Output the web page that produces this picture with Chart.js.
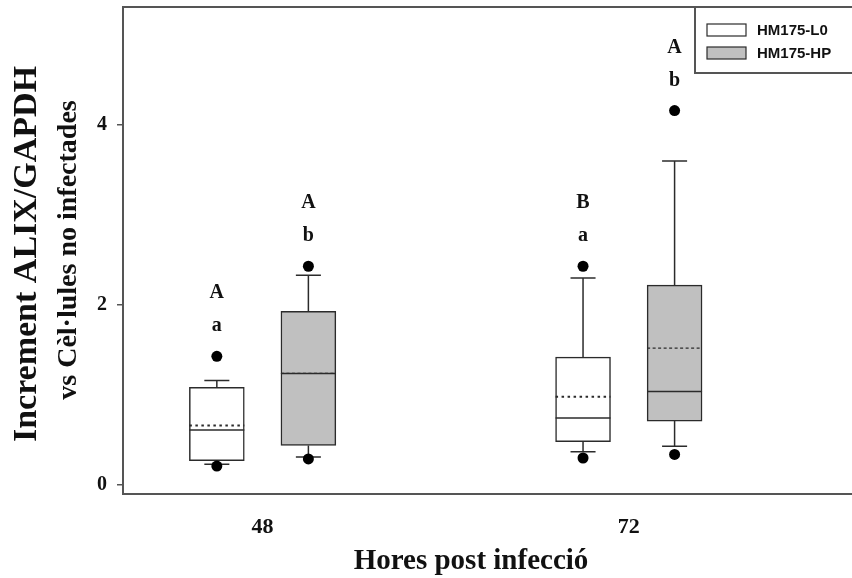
<!DOCTYPE html>
<html><head><meta charset="utf-8">
<script src="https://cdn.jsdelivr.net/npm/chart.js@4.4.1/dist/chart.umd.min.js"></script>
<style>html,body{margin:0;padding:0;background:#fff;overflow:hidden;width:852px;height:578px}#wrap{width:852px;height:578px;position:relative;overflow:hidden}</style>
</head><body><div id="wrap"><canvas id="c" width="858" height="578"></canvas></div>
<script>
// ---- data ----
const hours = [48, 72];
const yTickValues = [0, 2, 4];
const seriesNames = ['HM175-L0', 'HM175-HP'];

const l0Q1 = [0.27, 0.48];
const l0Q3 = [1.085, 1.42];
const l0Median = [0.61, 0.745];
const l0Mean = [0.66, 0.98];
const l0WhiskerLow = [0.23, 0.37];
const l0WhiskerHigh = [1.16, 2.30];
const l0OutLow = [0.21, 0.30];
const l0OutHigh = [1.43, 2.43];
const l0LetterTop = ['A', 'B'];
const l0LetterBottom = ['a', 'a'];

const hpQ1 = [0.44, 0.71];
const hpQ3 = [1.93, 2.22];
const hpMedian = [1.24, 1.04];
const hpMean = [1.24, 1.52];
const hpWhiskerLow = [0.31, 0.43];
const hpWhiskerHigh = [2.33, 3.60];
const hpOutLow = [0.29, 0.34];
const hpOutHigh = [2.43, 4.16];
const hpLetterTop = ['A', 'A'];
const hpLetterBottom = ['b', 'b'];

// ---- style / layout constants ----
const groupOffset = [-3, 3];   // hours offset of each series inside a group
const boxHalf = 1.8;           // half box width in x units
const capHalf = 0.82;          // half whisker cap width in x units
const lineCol = '#2b2b2b';
const frameCol = '#555555';
const fills = ['#ffffff', '#c0c0c0'];
const meanDash = [[2.5, 3.5], [3, 2.5]];
const meanWidth = [2, 1.2];

const series = [
  {q1: l0Q1, q3: l0Q3, med: l0Median, mean: l0Mean, wl: l0WhiskerLow, wh: l0WhiskerHigh, ol: l0OutLow, oh: l0OutHigh, lt: l0LetterTop, lb: l0LetterBottom},
  {q1: hpQ1, q3: hpQ3, med: hpMedian, mean: hpMean, wl: hpWhiskerLow, wh: hpWhiskerHigh, ol: hpOutLow, oh: hpOutHigh, lt: hpLetterTop, lb: hpLetterBottom}
];

function seg(x1, y1, x2, y2, dash, width) {
  return {type: 'line', data: [{x: x1, y: y1}, {x: x2, y: y2}], borderColor: lineCol,
    borderWidth: width || 1.5, borderDash: dash || [], pointRadius: 0, fill: false, tension: 0, order: 1};
}

const datasets = [];
// outlier points (drawn on top)
series.forEach((s, si) => {
  const pts = [];
  hours.forEach((h, i) => { pts.push({x: h + groupOffset[si], y: s.oh[i]}); pts.push({x: h + groupOffset[si], y: s.ol[i]}); });
  datasets.push({type: 'scatter', label: seriesNames[si] + ' outliers', data: pts, pointRadius: 5.5,
    pointBackgroundColor: '#000', pointBorderColor: '#000', pointBorderWidth: 0, showLine: false, order: 0});
});
// whiskers, caps, medians, means
series.forEach((s, si) => {
  hours.forEach((h, i) => {
    const x = h + groupOffset[si];
    datasets.push(seg(x, s.q3[i], x, s.wh[i]));
    datasets.push(seg(x, s.q1[i], x, s.wl[i]));
    datasets.push(seg(x - capHalf, s.wh[i], x + capHalf, s.wh[i]));
    datasets.push(seg(x - capHalf, s.wl[i], x + capHalf, s.wl[i]));
    datasets.push(seg(x - boxHalf, s.med[i], x + boxHalf, s.med[i]));
    datasets.push(seg(x - boxHalf, s.mean[i], x + boxHalf, s.mean[i], meanDash[si], meanWidth[si]));
  });
});
// boxes
series.forEach((s, si) => {
  datasets.push({type: 'bar', label: seriesNames[si],
    data: hours.map((h, i) => ({x: h + groupOffset[si], y: [s.q1[i], s.q3[i]]})),
    backgroundColor: fills[si], borderColor: lineCol, borderWidth: 1.5, borderSkipped: false,
    grouped: false, barThickness: 55, order: 2});
});

const serif = "'Liberation Serif', 'Times New Roman', serif";
const txtCol = '#111111';

const annotPlugin = {
  id: 'annot',
  afterDatasetsDraw(chart) {
    const {ctx, scales: {x, y}} = chart;
    ctx.save();
    ctx.fillStyle = txtCol;
    ctx.textAlign = 'center';
    ctx.textBaseline = 'middle';
    ctx.font = 'bold 20px ' + serif;
    series.forEach((s, si) => {
      hours.forEach((h, i) => {
        const px = x.getPixelForValue(h + groupOffset[si]);
        const py = y.getPixelForValue(s.oh[i]);
        ctx.fillText(s.lb[i], px, py - 30);
        ctx.fillText(s.lt[i], px, py - 63);
      });
    });
    ctx.restore();
  },
  afterDraw(chart) {
    const {ctx, chartArea} = chart;
    ctx.save();
    ctx.fillStyle = txtCol;
    ctx.textAlign = 'center';
    ctx.textBaseline = 'middle';
    ctx.translate(27, 254);
    ctx.rotate(-Math.PI / 2);
    ctx.font = 'bold 34px ' + serif;
    ctx.fillText('Increment ALIX/GAPDH', 0, 0);
    ctx.restore();
    ctx.save();
    ctx.fillStyle = txtCol;
    ctx.textAlign = 'center';
    ctx.textBaseline = 'middle';
    ctx.translate(69, 250);
    ctx.rotate(-Math.PI / 2);
    ctx.font = 'bold 28px ' + serif;
    ctx.fillText('vs Cèl·lules no infectades', 0, 0);
    ctx.restore();
    // x title
    ctx.save();
    ctx.fillStyle = txtCol;
    ctx.textAlign = 'center';
    ctx.textBaseline = 'middle';
    ctx.font = 'bold 29px ' + serif;
    ctx.fillText('Hores post infecció', 471, 562);
    ctx.restore();
    // legend
    ctx.save();
    ctx.strokeStyle = frameCol;
    ctx.lineWidth = 2;
    ctx.fillStyle = '#fff';
    ctx.fillRect(695, chartArea.top, 170, 66);
    ctx.strokeRect(695, chartArea.top, 170, 66);
    const rows = [30, 53];
    seriesNames.forEach((n, si) => {
      ctx.fillStyle = fills[si];
      ctx.strokeStyle = lineCol;
      ctx.lineWidth = 1.2;
      ctx.fillRect(707, rows[si] - 6, 39, 12);
      ctx.strokeRect(707, rows[si] - 6, 39, 12);
      ctx.fillStyle = txtCol;
      ctx.font = "bold 15px 'Liberation Sans', Arial, sans-serif";
      ctx.textAlign = 'left';
      ctx.textBaseline = 'middle';
      ctx.fillText(n, 757, rows[si] + 1);
    });
    ctx.restore();
  }
};

function noPad(s) { s.paddingTop = 0; s.paddingBottom = 0; s.paddingLeft = 0; s.paddingRight = 0; }

const chart = new Chart(document.getElementById('c'), {
  type: 'bar',
  data: {datasets},
  options: {
    responsive: false,
    animation: false,
    events: [],
    layout: {padding: {top: 7, right: 0, left: 0, bottom: 0}},
    plugins: {legend: {display: false}, tooltip: {enabled: false}},
    scales: {
      x: {
        type: 'linear', position: 'bottom', min: 38.85, max: 86.66, offset: false,
        afterBuildTicks: s => { s.ticks = hours.map(v => ({value: v})); },
        afterFit: s => { s.height = 84; noPad(s); },
        ticks: {font: {family: serif, size: 22, weight: 'bold'}, color: txtCol, padding: 20, maxRotation: 0,
          callback: v => String(v)},
        grid: {display: false, drawTicks: false, offset: false},
        border: {display: true, color: frameCol, width: 2}
      },
      xTop: {
        type: 'linear', position: 'top', min: 0, max: 1, display: true,
        afterFit: s => { s.height = 0; noPad(s); },
        ticks: {display: false},
        grid: {display: false, drawTicks: false},
        border: {display: true, color: frameCol, width: 2}
      },
      y: {
        type: 'linear', position: 'left', min: -0.1, max: 5.31,
        afterBuildTicks: s => { s.ticks = yTickValues.map(v => ({value: v})); },
        afterFit: s => { s.width = 123; noPad(s); },
        ticks: {font: {family: serif, size: 20, weight: 'bold'}, color: txtCol, padding: 10,
          callback: v => String(v)},
        grid: {display: true, drawOnChartArea: false, drawTicks: true, tickLength: 6, color: frameCol, lineWidth: 1.5},
        border: {display: true, color: frameCol, width: 2}
      }
    }
  },
  plugins: [annotPlugin]
});

// box width in pixels from the x scale
const bw = Math.abs(chart.scales.x.getPixelForValue(hours[0] + boxHalf) - chart.scales.x.getPixelForValue(hours[0] - boxHalf));
chart.data.datasets.forEach(d => { if (d.type === 'bar') d.barThickness = bw; });
chart.update('none');
</script>
</body></html>
